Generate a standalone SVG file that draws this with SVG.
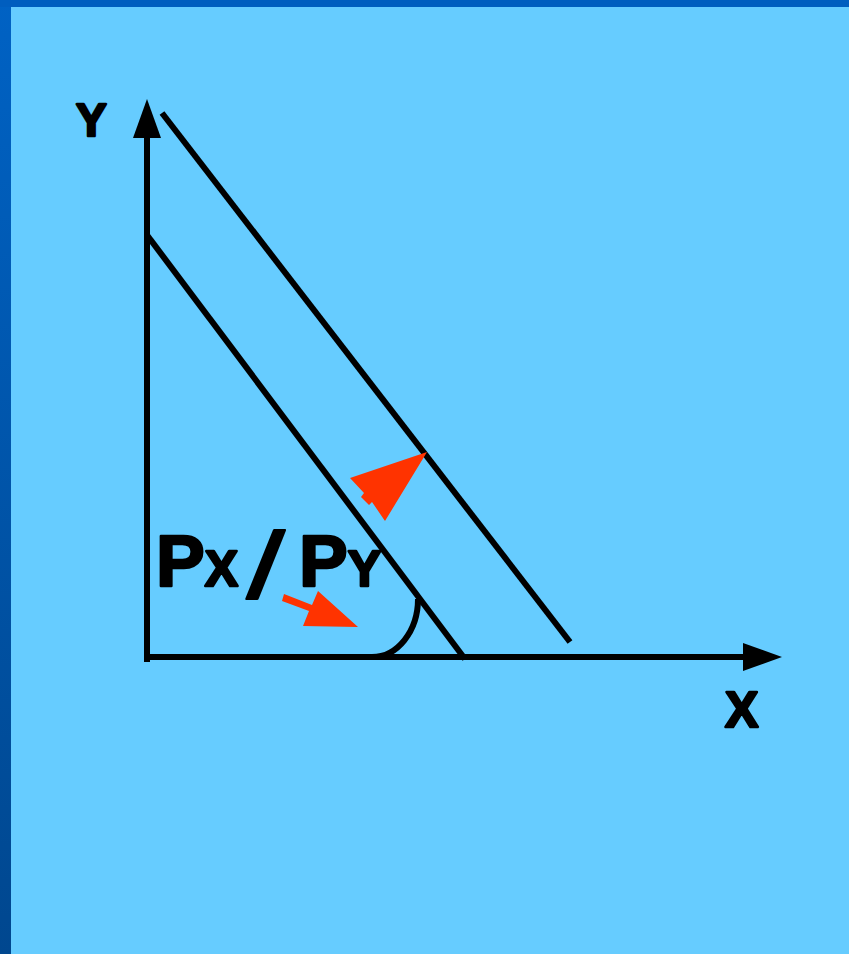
<svg xmlns="http://www.w3.org/2000/svg" width="849" height="954" viewBox="0 0 849 954">
<defs>
<linearGradient id="side" x1="0" y1="0" x2="0" y2="1">
<stop offset="0" stop-color="#0062C4"/>
<stop offset="1" stop-color="#00478F"/>
</linearGradient>
<style>
.ln{stroke:#000;stroke-width:6;fill:none}
.red{fill:#FF3300}
.t{font-family:"Liberation Sans",Arial,sans-serif;font-weight:bold;fill:#000;stroke:#000;stroke-width:2.5;stroke-linejoin:round}
</style>
</defs>
<rect width="849" height="954" fill="url(#side)"/>
<rect x="0" y="0" width="849" height="7" fill="#005EBF"/>
<rect x="11" y="7" width="838" height="947" fill="#66CCFF"/>
<g id="axes">
<line class="ln" x1="147" y1="662" x2="147" y2="130"/>
<polygon points="147,99 133,138 161,138"/>
<line class="ln" x1="144" y1="657" x2="750" y2="657"/>
<polygon points="782,657 743,643 743,671"/>
</g>
<g id="connectors">
<line class="ln" x1="147" y1="235" x2="465" y2="659"/>
<line class="ln" x1="162" y1="113" x2="570" y2="642"/>
<path class="ln" d="M372,657 A46,58 0 0 0 418,599"/>
<polygon class="red" points="284,594 312,605 318,591 358,627 303,626 309,611 282,601"/>
<polygon class="red" points="427,452 350,478 364,493 361,497 369,505 372,502 385,521"/>
</g>
<g id="labels">
<text class="t" x="76" y="136" font-size="46">Y</text>
<text class="t" x="725" y="727" font-size="50">X</text>
<text class="t" x="156" y="586" font-size="73">P<tspan font-size="50">X</tspan></text>
<text class="t" transform="translate(246,597) skewX(-12)" font-size="92">/</text>
<text class="t" x="299" y="586" font-size="73">P<tspan font-size="50">Y</tspan></text>
</g>
</svg>
